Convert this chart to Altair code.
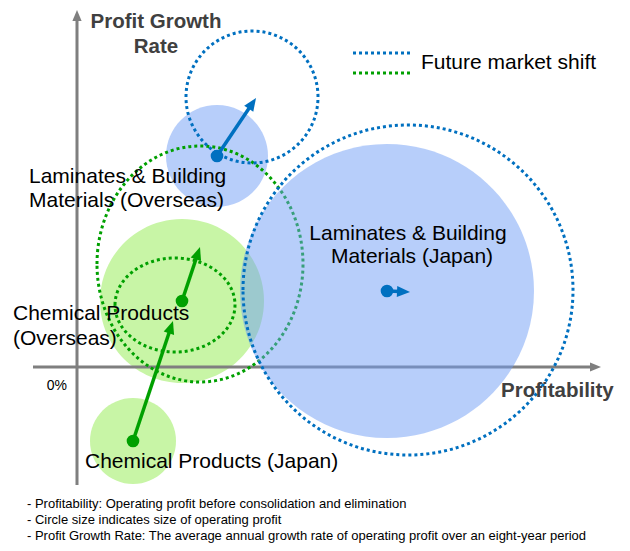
import altair as alt
import pandas as pd

# ---------------- data (chart units: 1 unit of profitability / growth) ----------------
segments = ["Laminates & Building Materials (Overseas)", "Laminates & Building Materials (Japan)",
            "Chemical Products (Overseas)", "Chemical Products (Japan)"]
business = ["Laminates", "Laminates", "Chemical", "Chemical"]
# current position and circle size (radius ~ operating profit)
now_profit = [140, 310, 105, 56]
now_growth = [211, 76, 66, -74]
now_radius = [51, 147, 82, 43]
# future market shift (dotted circles)
fut_profit = [175, 331, 123, 98]
fut_growth = [270, 77, 103, 62]
fut_radius_x = [66, 165, 103, 60]
fut_radius_y = [66, 165, 118, 47]
# arrow tips
arrow_profit = [179, 333, 123, 96]
arrow_growth = [269, 75, 120, 46]

# segment labels (one row per text line)
label_lines = ["Laminates & Building", "Materials (Overseas)",
               "Laminates & Building", "Materials (Japan)",
               "Chemical Products", "(Overseas)",
               "Chemical Products (Japan)"]
label_profit = [-48, -48, 331, 335, -64, -64, 8]
label_growth = [184, 160, 127, 104, 47, 22, -101]
label_align = ["left", "left", "center", "center", "left", "left", "left"]

# axes (profitability axis and growth axis, arrow tips)
axis_name = ["Profitability", "Profit Growth Rate"]
axis_x1 = [-44, 0]
axis_x2 = [513, 0]
axis_y1 = [0, -118]
axis_y2 = [0, 349]
axis_tip_x = [524, 0]
axis_tip_y = [0, 357]
axis_tip_angle = [90, 0]

footnotes = ["- Profitability: Operating profit before  consolidation and elimination",
             "- Circle size indicates size of operating  profit",
             "- Profit Growth Rate: The average  annual growth rate of operating profit over an eight-year period"]

# ---------------- tables ----------------
circles = pd.DataFrame({
    "segment": segments * 2,
    "business": business * 2,
    "kind": ["now"] * 4 + ["future"] * 4,
    "cx": now_profit + fut_profit,
    "cy": now_growth + fut_growth,
    "rx": now_radius + fut_radius_x,
    "ry": now_radius + fut_radius_y,
})
arrows = pd.DataFrame({"segment": segments, "business": business,
                       "x": now_profit, "y": now_growth,
                       "tx": arrow_profit, "ty": arrow_growth})
labels = pd.DataFrame({"text": label_lines, "x": label_profit, "y": label_growth, "align": label_align})
axes_df = pd.DataFrame({"axis": axis_name, "x1": axis_x1, "x2": axis_x2, "y1": axis_y1, "y2": axis_y2,
                        "tx": axis_tip_x, "ty": axis_tip_y, "angle": axis_tip_angle})
notes = pd.DataFrame({"text": footnotes, "line": [0, 1, 2]})

W, H = 614, 535
xs = alt.Scale(domain=[-69, 545], nice=False, zero=False)
ys = alt.Scale(domain=[-176, 359], nice=False, zero=False)
X = lambda f: alt.X(f, type="quantitative", scale=xs, axis=None)
Y = lambda f: alt.Y(f, type="quantitative", scale=ys, axis=None)

BLUE = "#0070c0"
GREEN = "#00a000"
GRAY = "#7f7f7f"
TIP = "M 0 0 L 0.42 1 L -0.42 1 Z"

circ_base = alt.Chart(circles).transform_calculate(
    shape="'M -1 0 A 1 ' + (datum.ry / datum.rx) + ' 0 1 1 1 0 A 1 ' + (datum.ry / datum.rx) + ' 0 1 1 -1 0 Z'",
    sz="pow(2 * datum.rx, 2)",
)


def circ(filter_expr, **mark):
    return circ_base.transform_filter(filter_expr).mark_point(**mark).encode(
        x=X("cx"), y=Y("cy"),
        shape=alt.Shape("shape:N", scale=None),
        size=alt.Size("sz:Q", scale=None),
    )


green_fill = circ("datum.business == 'Chemical' && datum.kind == 'now'",
                  filled=True, fill="#c8f5a6", opacity=1, strokeWidth=0)
small_blue_fill = circ("datum.segment == 'Laminates & Building Materials (Overseas)' && datum.kind == 'now'",
                       filled=True, fill="#6f9df5", fillOpacity=0.5, opacity=1, strokeWidth=0)
big_blue_fill = circ("datum.segment == 'Laminates & Building Materials (Japan)' && datum.kind == 'now'",
                     filled=True, fill="#6f9df5", fillOpacity=0.5, opacity=1, strokeWidth=0)
green_dash = circ("datum.business == 'Chemical' && datum.kind == 'future'",
                  filled=False, stroke=GREEN, strokeWidth=3, strokeDash=[3, 3], opacity=1)
blue_dash = circ("datum.business == 'Laminates' && datum.kind == 'future'",
                 filled=False, stroke=BLUE, strokeWidth=3, strokeDash=[3, 3], opacity=1)

axis_lines = alt.Chart(axes_df).mark_rule(color=GRAY, strokeWidth=3).encode(
    x=X("x1"), x2="x2", y=Y("y1"), y2="y2")
axis_tips = alt.Chart(axes_df).mark_point(filled=True, color=GRAY, opacity=1, size=(2 * 11) ** 2).encode(
    x=X("tx"), y=Y("ty"), shape=alt.value(TIP), angle=alt.Angle("angle:Q", scale=None))

arr_base = alt.Chart(arrows).transform_calculate(
    dx="datum.tx - datum.x", dy="datum.ty - datum.y",
).transform_calculate(
    len="sqrt(datum.dx * datum.dx + datum.dy * datum.dy)",
    ang="(atan2(datum.dx, datum.dy) * 180 / PI + 360) % 360",
).transform_calculate(
    ex="datum.x + datum.dx * (1 - 10 / datum.len)",
    ey="datum.y + datum.dy * (1 - 10 / datum.len)",
)
color_enc = alt.Color("business:N", scale=alt.Scale(domain=["Laminates", "Chemical"], range=[BLUE, GREEN]),
                      legend=None)
arrow_lines = arr_base.mark_rule(strokeWidth=3.5).encode(
    x=X("x"), y=Y("y"), x2="ex:Q", y2="ey:Q", color=color_enc)
arrow_heads = arr_base.mark_point(filled=True, opacity=1, size=(2 * 13) ** 2).encode(
    x=X("tx"), y=Y("ty"), shape=alt.value(TIP), angle=alt.Angle("ang:Q", scale=None), color=color_enc)
dots = arr_base.mark_circle(opacity=1, size=160).encode(x=X("x"), y=Y("y"), color=color_enc)

TF = "Liberation Sans"
FS = 21
label_base = alt.Chart(labels)
seg_labels_left = label_base.transform_filter("datum.align == 'left'").mark_text(
    fontSize=FS, font=TF, color="#000000", baseline="alphabetic", align="left").encode(
    x=X("x"), y=Y("y"), text="text:N")
seg_labels_center = label_base.transform_filter("datum.align == 'center'").mark_text(
    fontSize=FS, font=TF, color="#000000", baseline="alphabetic", align="center").encode(
    x=X("x"), y=Y("y"), text="text:N")

title_style = dict(font=TF, fontSize=20.5, fontWeight="bold", color="#404040", baseline="alphabetic")
t1 = alt.Chart(pd.DataFrame({"t": ["Profit Growth"]})).mark_text(align="center", **title_style).encode(
    x=alt.value(148), y=alt.value(20), text="t:N")
t2 = alt.Chart(pd.DataFrame({"t": ["Rate"]})).mark_text(align="center", **title_style).encode(
    x=alt.value(148), y=alt.value(45), text="t:N")
t3 = alt.Chart(pd.DataFrame({"t": ["Profitability"]})).mark_text(align="left", **title_style).encode(
    x=alt.value(493), y=alt.value(389), text="t:N")
zero = alt.Chart(pd.DataFrame({"t": ["0%"]})).mark_text(align="right", font=TF, fontSize=14, color="#000000",
                                                        baseline="alphabetic").encode(
    x=alt.value(59), y=alt.value(382), text="t:N")

leg_blue = alt.Chart(pd.DataFrame({"k": ["Laminates"]})).mark_rule(
    color=BLUE, strokeWidth=3, strokeDash=[3, 3]).encode(x=alt.value(345), x2=alt.value(404), y=alt.value(45))
leg_green = alt.Chart(pd.DataFrame({"k": ["Chemical"]})).mark_rule(
    color=GREEN, strokeWidth=3, strokeDash=[3, 3]).encode(x=alt.value(345), x2=alt.value(404), y=alt.value(65))
leg_text = alt.Chart(pd.DataFrame({"t": ["Future market shift"]})).mark_text(
    align="left", font=TF, fontSize=FS, color="#000000", baseline="alphabetic").encode(
    x=alt.value(413), y=alt.value(61), text="t:N")

note_text = alt.Chart(notes).transform_calculate(py="500 + datum.line * 16").mark_text(
    align="left", font=TF, fontSize=13, color="#000000", baseline="alphabetic").encode(
    x=alt.value(19), y=alt.Y("py:Q", scale=None), text="text:N")

chart = alt.layer(
    green_fill, axis_lines, axis_tips, small_blue_fill, green_dash, big_blue_fill, blue_dash,
    arrow_lines, arrow_heads, dots, seg_labels_left, seg_labels_center, t1, t2, t3, zero,
    leg_blue, leg_green, leg_text, note_text,
).properties(width=W, height=H, autosize=alt.AutoSizeParams(type="none"), padding=0).configure_view(stroke=None)

chart.save("out.html", embed_options={"renderer": "svg", "actions": False})
